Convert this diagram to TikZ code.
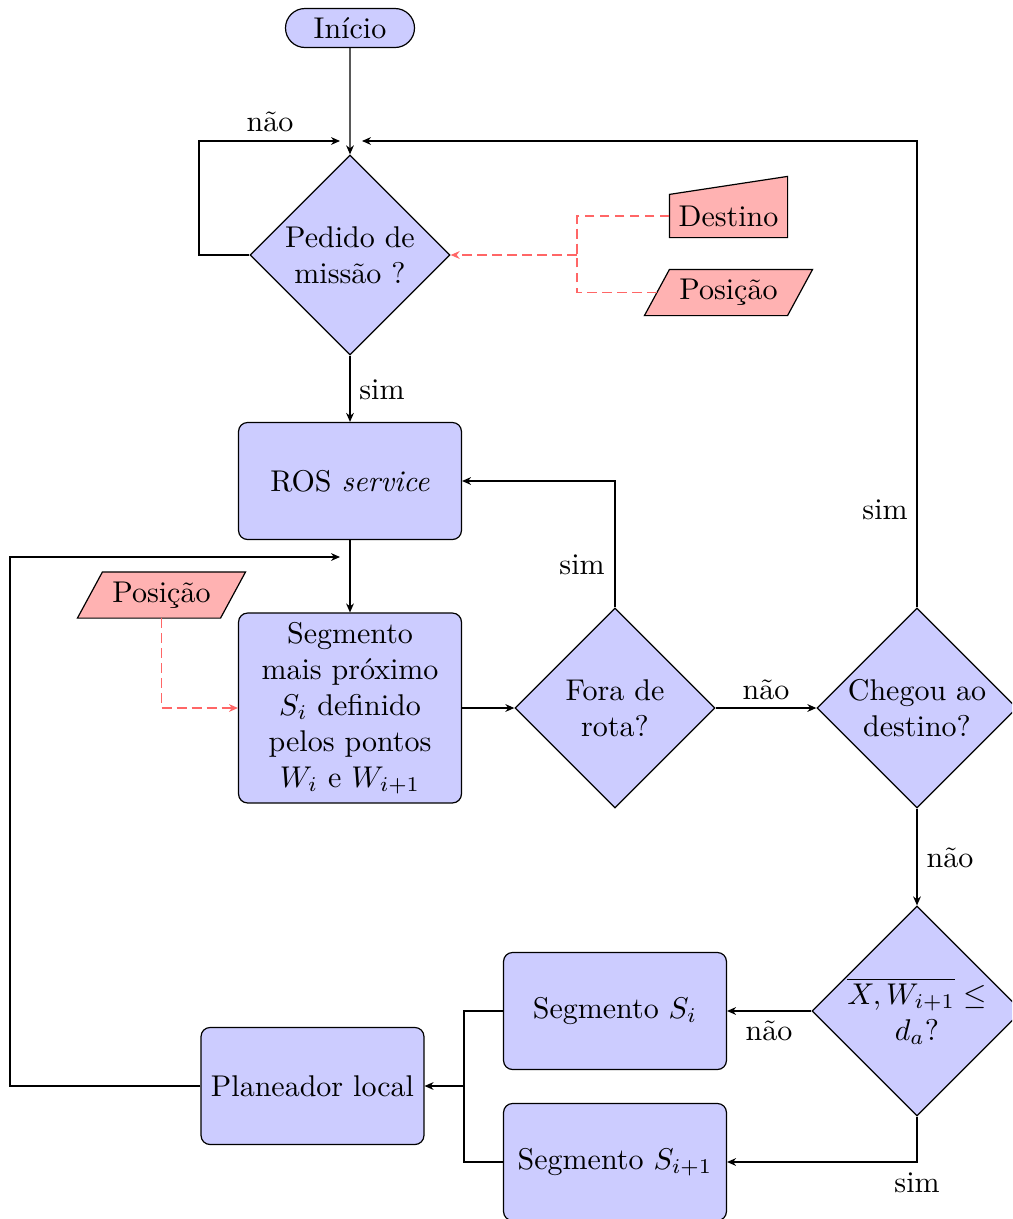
\documentclass[tikz,border=0pt]{standalone}
\usetikzlibrary{shapes.geometric,shapes.misc,arrows.meta,calc}
\pgfdeclarelayer{background}
\pgfsetlayers{background,main}
\tikzset{
  procbox/.style={rectangle, rounded corners=3pt, draw, fill=blue!20, minimum width=74.3pt, minimum height=39pt, align=center, inner sep=0pt},
  decision/.style={diamond, draw, fill=blue!20, minimum width=66.7pt, minimum height=66.7pt, inner sep=0pt, align=center, aspect=1},
  startnode/.style={rounded rectangle, draw, fill=blue!20, minimum width=43pt, minimum height=13pt, inner sep=0pt},
  ionode/.style={rectangle, inner sep=0pt, align=center},
  iofill/.style={draw, fill=red!30},
  conn/.style={-{Stealth[length=3pt,width=2.6pt]}},
  dconn/.style={draw=red!60, dash pattern=on 3.3pt off 1.7pt},
  lbl/.style={inner sep=0pt}
}
\begin{document}
\begin{tikzpicture}[x=0.33333pt,y=-0.33333pt]
\useasboundingbox (0,0) rectangle (1012,1219);
\clip (0,0) rectangle (1012,1219);

% nodes
\node[startnode] (inicio) at (350,28) {Início};
\node[decision] (pedido) at (350,255) {Pedido de\\missão ?};
\node[ionode, minimum width=39pt, minimum height=14pt] (destino) at (728.5,216) {Destino};
\node[ionode, minimum width=47.3pt, minimum height=15pt] (pos1) at (728.5,292.5) {Posição};
\node[procbox] (ros) at (350,481) {ROS \textit{service}};
\node[procbox, minimum height=63.3pt] (seg) at (350,708) {Segmento\\mais próximo\\$S_i$ definido\\pelos pontos\\$W_i$ e $W_{i+1}$};
\node[ionode, minimum width=47.3pt, minimum height=15pt] (pos2) at (161.5,595) {Posição};
\node[decision] (fora) at (615,708) {Fora de\\rota?};
\node[decision] (chegou) at (917,708) {Chegou ao\\destino?};
\node[decision, minimum width=70pt, minimum height=70pt] (dist) at (917,1011) {$\overline{X,W_{i+1}}\leq$\\$d_a$?};
\node[procbox] (si) at (615,1011) {Segmento $S_i$};
\node[procbox] (si1) at (615,1162) {Segmento $S_{i+1}$};
\node[procbox] (plan) at (312.5,1086) {Planeador local};

% input shapes drawn behind their text
\begin{pgfonlayer}{background}
\draw[iofill] (destino.south west) -- (destino.south east) -- ([yshift=6pt]destino.north east) -- (destino.north west) -- cycle;
\draw[iofill] ([xshift=-4.17pt]pos1.south west) -- ([xshift=-4.17pt]pos1.south east) -- ([xshift=4.17pt]pos1.north east) -- ([xshift=4.17pt]pos1.north west) -- cycle;
\draw[iofill] ([xshift=-4.17pt]pos2.south west) -- ([xshift=-4.17pt]pos2.south east) -- ([xshift=4.17pt]pos2.north east) -- ([xshift=4.17pt]pos2.north west) -- cycle;
\end{pgfonlayer}

% helper coordinates
\coordinate (naoL) at (199,141);
\coordinate (naoTip) at (340,141);
\coordinate (simTip) at (362,141);
\coordinate (jn) at (577,255);
\coordinate (loopL) at (10,1086);
\coordinate (loopTip) at (340,557);
\coordinate (mrg) at (464,1086);

% connectors
\draw[conn] (inicio) -- (pedido);
\draw[conn] (pedido.west) -| (naoL) -- (naoTip);
\draw[conn] (chegou.north) |- (simTip);
\draw[dconn] (destino.west) -| (jn);
\draw[dconn] (pos1.west) -| (jn);
\draw[dconn, conn] (jn) -- (pedido.east);
\draw[conn] (pedido) -- (ros);
\draw[conn] (ros) -- (seg);
\draw[dconn, conn] (pos2.south) |- (seg.west);
\draw[conn] (seg) -- (fora);
\draw[conn] (fora.north) |- (ros.east);
\draw[conn] (fora) -- (chegou);
\draw[conn] (chegou) -- (dist);
\draw[conn] (dist) -- (si);
\draw[conn] (dist.south) |- (si1.east);
\draw (si.west) -| (mrg);
\draw (si1.west) -| (mrg);
\draw[conn] (mrg) -- (plan.east);
\draw[conn] (plan.west) -- (loopL) |- (loopTip);

% labels
\node[lbl] (l1) at (270,122) {não};
\node[lbl] (l2) at (382,390) {sim};
\node[lbl] (l3) at (582,565) {sim};
\node[lbl] (l4) at (885,510) {sim};
\node[lbl] (l5) at (766,690) {não};
\node[lbl] (l6) at (950,858) {não};
\node[lbl] (l7) at (769,1031) {não};
\node[lbl] (l8) at (917,1183) {sim};
\end{tikzpicture}
\end{document}
